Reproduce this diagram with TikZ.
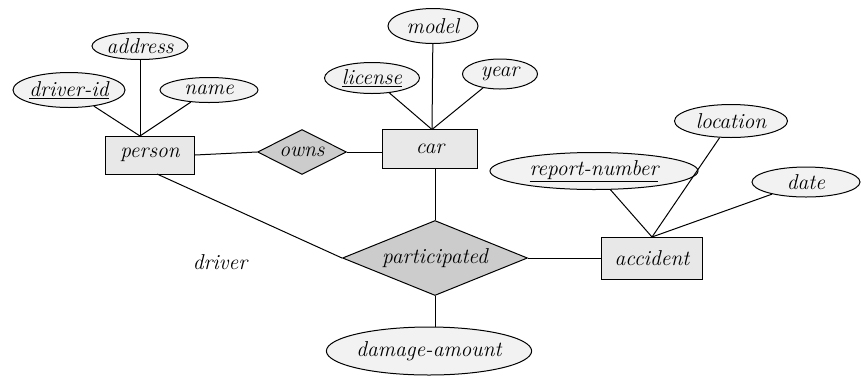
\documentclass[tikz,border=0pt]{standalone}
\usepackage{fontspec}
\usetikzlibrary{shapes.geometric}
\definecolor{attrfill}{gray}{0.95}
\definecolor{entfill}{gray}{0.91}
\definecolor{relfill}{gray}{0.80}
\begin{document}
\begin{tikzpicture}[x=1pt,y=-1pt,
  every node/.style={font=\fontsize{21.5}{25}\selectfont\itshape, inner sep=0pt},
  attr/.style={ellipse, draw, fill=attrfill, line width=1pt},
  ent/.style={rectangle, draw, fill=entfill, line width=1pt},
  rel/.style={diamond, draw, fill=relfill, line width=1pt},
  conn/.style={line width=1pt}]
\useasboundingbox (0,0) rectangle (867,376);
% entities
\node[ent, minimum width=89pt, minimum height=38pt] (person) at (150,155) {person};
\node[ent, minimum width=95pt, minimum height=39pt] (car) at (430,149) {car};
\node[ent, minimum width=101pt, minimum height=42pt] (accident) at (652,258) {accident};
% relationships
\node[rel, aspect=2, minimum width=89pt, minimum height=45pt] (owns) at (302,152) {owns};
\node[rel, aspect=2.47, minimum width=185pt, minimum height=75pt] (part) at (435,258) {participated};
% attributes
\node[attr, minimum width=96pt, minimum height=27pt] (address) at (140,46) {address};
\node[attr, minimum width=112pt, minimum height=35pt] (driverid) at (69,90) {\underline{driver-id}};
\node[attr, minimum width=98pt, minimum height=25pt] (name) at (209,90) {name};
\node[attr, minimum width=90pt, minimum height=35pt] (model) at (433,26) {model};
\node[attr, minimum width=95pt, minimum height=31pt] (license) at (372,78) {\underline{license}};
\node[attr, minimum width=75pt, minimum height=30pt] (year) at (500,74) {year};
\node[attr, minimum width=208pt, minimum height=37pt] (repnum) at (594,171) {\underline{report-number}};
\node[attr, minimum width=113pt, minimum height=33pt] (location) at (731,121) {location};
\node[attr, minimum width=108pt, minimum height=30pt] (date) at (806,182) {date};
\node[attr, minimum width=202pt, minimum height=48pt] (damage) at (429,351) {damage-amount};
% role label
\node (driver) at (220,262) {driver};
% connection points
\coordinate (pT) at (140,136);
\coordinate (cT) at (432,129.5);
\coordinate (aT) at (652,237);
\coordinate (pB) at (157,174);
% connectors
\draw[conn] (driverid) -- (pT);
\draw[conn] (address) -- (pT);
\draw[conn] (name) -- (pT);
\draw[conn] (license) -- (cT);
\draw[conn] (model) -- (cT);
\draw[conn] (year) -- (cT);
\draw[conn] (repnum) -- (aT);
\draw[conn] (location) -- (aT);
\draw[conn] (date) -- (aT);
\draw[conn] (person.east) -- (owns.west);
\draw[conn] (owns.east) -- (car.west |- owns.east);
\draw[conn] (car.south -| part.north) -- (part.north);
\draw[conn] (pB) -- (part.west);
\draw[conn] (part.east) -- (accident.west |- part.east);
\draw[conn] (part.south) -- (part.south |- damage.north);
\end{tikzpicture}
\end{document}
